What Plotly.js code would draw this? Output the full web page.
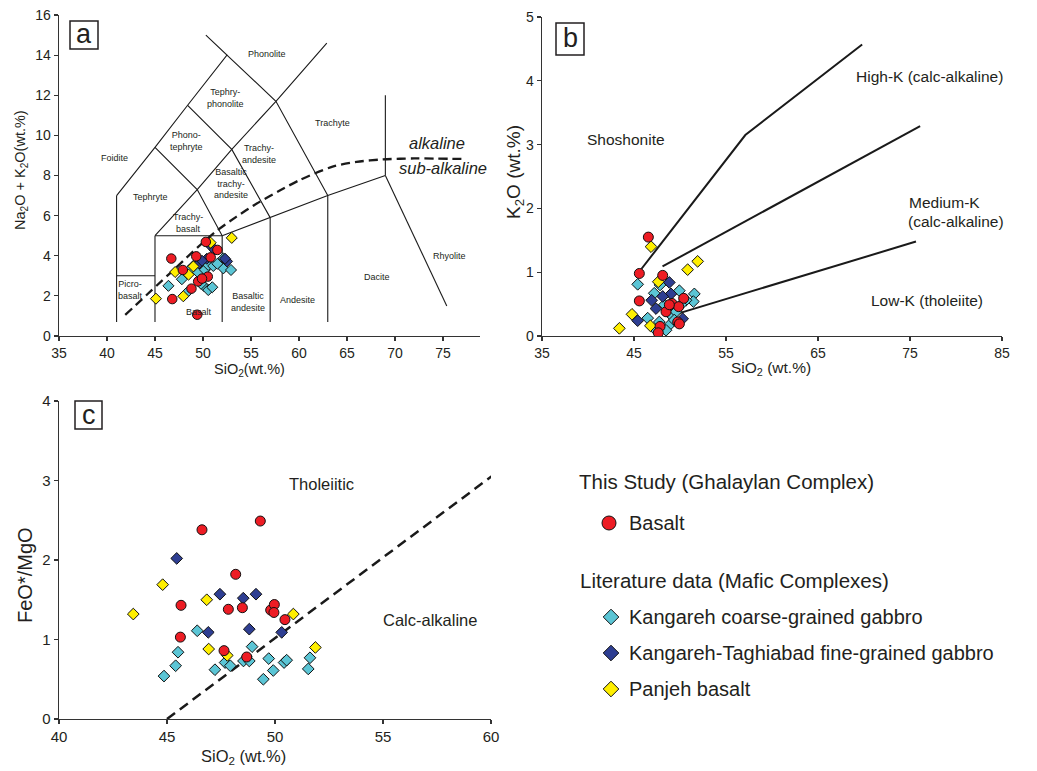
<!DOCTYPE html>
<html><head><meta charset="utf-8">
<script src="https://cdn.plot.ly/plotly-3.0.1.min.js"></script>
<style>html,body{margin:0;padding:0;background:#fff}#chart{width:1037px;height:771px}</style>
</head><body><div id="chart"></div>
<script>
// ===== Panel a: TAS diagram =====
const aBasaltX = [50.3, 51.5, 46.7, 49.3, 50.8, 47.9, 49.5, 50.5, 48.8, 46.8, 49.4, 49.9];
const aBasaltY = [4.69, 4.29, 3.86, 3.97, 3.92, 3.29, 2.72, 2.96, 2.36, 1.84, 1.06, 2.86];
const aCoarseX = [46.4, 47.8, 48.3, 49.5, 50.2, 50.55, 51.07, 52.12, 52.12, 52.92, 50.1, 50.55, 50.97, 49.0, 48.6, 51.5, 49.8];
const aCoarseY = [2.5, 2.83, 2.15, 3.16, 3.3, 3.54, 3.49, 3.87, 3.37, 3.29, 2.49, 2.29, 2.43, 3.5, 3.3, 3.6, 2.6];
const aFineX = [49.6, 50.4, 50.9, 51.2, 52.5, 49.9, 52.3];
const aFineY = [3.62, 3.85, 4.45, 4.3, 3.72, 3.75, 3.85];
const aPanjehX = [53.0, 50.8, 47.1, 48.5, 49.0, 47.95, 45.1];
const aPanjehY = [4.89, 4.65, 3.19, 3.06, 3.47, 1.98, 1.86];
// TAS field boundaries (segments separated by null)
const tasX = [41,41,null,41,45,null,45,45,null,45,52,null,52,52,null,57,57,null,63,63,null,
  52,57,63,69,null,69,69,null,69,75.4,null,41,45,48.4,52.5,50.3,null,45,49.4,53,57.6,62.9,null,
  45,49.4,52,null,48.4,53,57,null,52.5,57.6,63];
const tasY = [0.7,7,null,3,3,null,0.7,5,null,5,5,null,0.7,5,null,0.7,5.9,null,0.7,7,null,
  5,5.9,7,8,null,8,12,null,8,1.5,null,7,9.4,11.5,14,15,null,5,7.3,9.3,11.7,14.6,null,
  9.4,7.3,5,null,11.5,9.3,5.9,null,14,11.7,7];
// Irvine & Baragar alkaline / sub-alkaline divide
const alkX = [41.9, 46.5, 51.1, 53.5, 55.6, 58.0, 60.1, 63.5, 66.0, 68.7, 72.0, 77.4];
const alkY = [1.05, 3.1, 5.12, 5.95, 6.6, 7.25, 7.78, 8.44, 8.68, 8.8, 8.85, 8.82];
const tasLabels = [
  ['Phonolite',56.7,14.06], ['Tephry-<br>phonolite',52.3,11.85], ['Phono-<br>tephryte',48.3,9.7],
  ['Foidite',40.8,8.86], ['Tephryte',44.5,6.92], ['Trachy-<br>andesite',55.8,9.07],
  ['Basaltic<br>trachy-<br>andesite',52.9,7.58], ['Trachy-<br>basalt',48.4,5.62], ['Trachyte',63.5,10.6],
  ['Picro-<br>basalt',42.4,2.29], ['Basalt',49.6,1.19], ['Basaltic<br>andesite',54.7,1.68],
  ['Andesite',59.8,1.79], ['Dacite',68.1,2.95], ['Rhyolite',75.7,3.99]];

// ===== Panel b: K2O vs SiO2 =====
const bBasaltX = [46.56, 45.58, 48.12, 45.58, 50.4, 49.13, 49.86, 48.48, 49.75, 49.93, 47.83, 47.64, 48.84];
const bBasaltY = [1.55, 0.98, 0.95, 0.55, 0.59, 0.51, 0.46, 0.38, 0.22, 0.19, 0.15, 0.05, 0.49];
const bCoarseX = [45.4, 47.83, 49.93, 51.56, 51.45, 48.3, 46.49, 47.75, 48.84, 49.02, 49.57, 50.65, 49.38, 47.39, 48.48, 47.2, 50.1];
const bCoarseY = [0.81, 0.80, 0.71, 0.66, 0.54, 0.49, 0.28, 0.22, 0.17, 0.33, 0.38, 0.56, 0.25, 0.09, 0.09, 0.67, 0.49];
const bFineX = [48.84, 49.02, 46.92, 47.39, 45.4, 50.29, 48.12];
const bFineY = [0.84, 0.66, 0.56, 0.43, 0.24, 0.27, 0.62];
const bPanjehX = [46.85, 51.92, 50.83, 47.64, 44.78, 43.41, 46.78];
const bPanjehY = [1.40, 1.17, 1.04, 0.85, 0.34, 0.12, 0.16];
const kLinesX = [45.8, 57.1, 69.8, null, 48.1, 76.1, null, 48.6, 75.65];
const kLinesY = [1.05, 3.15, 4.57, null, 1.09, 3.29, null, 0.3, 1.48];

// ===== Panel c: FeO*/MgO vs SiO2 =====
const cBasaltX = [46.62, 49.32, 48.18, 45.65, 47.84, 48.49, 49.80, 49.97, 49.95, 50.46, 45.62, 47.64, 48.69];
const cBasaltY = [2.38, 2.49, 1.82, 1.43, 1.38, 1.40, 1.37, 1.44, 1.34, 1.25, 1.03, 0.86, 0.78];
const cCoarseX = [44.86, 45.40, 45.51, 46.40, 47.22, 47.69, 47.93, 48.54, 48.81, 48.94, 49.46, 49.71, 49.92, 50.42, 50.54, 51.54, 51.62];
const cCoarseY = [0.54, 0.67, 0.84, 1.11, 0.62, 0.71, 0.67, 0.73, 0.73, 0.91, 0.50, 0.76, 0.61, 0.71, 0.74, 0.63, 0.77];
const cFineX = [45.45, 47.45, 48.53, 49.12, 46.91, 48.81, 50.31];
const cFineY = [2.02, 1.57, 1.52, 1.57, 1.09, 1.13, 1.09];
const cPanjehX = [43.44, 44.80, 46.84, 46.93, 47.79, 50.85, 51.87];
const cPanjehY = [1.32, 1.69, 1.50, 0.88, 0.80, 1.32, 0.90];
const miyX = [45.0, 60.26];
const miyY = [0.0, 3.1];

// ===== Legend =====
const seriesNames = ['Basalt', 'Kangareh coarse-grained gabbro', 'Kangareh-Taghiabad fine-grained gabbro', 'Panjeh basalt'];
const groupTitles = ['This Study (Ghalaylan Complex)', 'Literature data (Mafic Complexes)'];

const RED = '#ED1C24', CYAN = '#5BC5D5', BLUE = '#2E3E92', YEL = '#FFEF00';
const INK = '#231F20';
const ARIAL = 'Liberation Sans, Arial, sans-serif';
const W = 1037, H = 771;
const PX = x => x / W, PY = y => 1 - y / H;

function pts(x, y, xa, ya, color, symbol, size) {
  return {x, y, xaxis: xa, yaxis: ya, type: 'scatter', mode: 'markers', showlegend: false, hoverinfo: 'skip',
    marker: {color, symbol, size, line: {color: '#111', width: 1}}};
}
function lines(x, y, xa, ya, w, dash, shape) {
  return {x, y, xaxis: xa, yaxis: ya, type: 'scatter', mode: 'lines', showlegend: false, hoverinfo: 'skip',
    connectgaps: false, line: {color: '#1a1a1a', width: w, dash: dash || 'solid', shape: shape || 'linear', smoothing: 0.8}};
}

const traces = [
  lines(tasX, tasY, 'x', 'y', 1.1),
  lines(alkX, alkY, 'x', 'y', 2.3, '9px,5px', 'spline'),
  pts(aCoarseX, aCoarseY, 'x', 'y', CYAN, 'diamond', 8.5),
  pts(aFineX, aFineY, 'x', 'y', BLUE, 'diamond', 8.5),
  pts(aPanjehX, aPanjehY, 'x', 'y', YEL, 'diamond', 8.5),
  pts(aBasaltX, aBasaltY, 'x', 'y', RED, 'circle', 9.5),

  lines(kLinesX, kLinesY, 'x2', 'y2', 2),
  pts(bCoarseX, bCoarseY, 'x2', 'y2', CYAN, 'diamond', 9),
  pts(bFineX, bFineY, 'x2', 'y2', BLUE, 'diamond', 9),
  pts(bPanjehX, bPanjehY, 'x2', 'y2', YEL, 'diamond', 9),
  pts(bBasaltX, bBasaltY, 'x2', 'y2', RED, 'circle', 10),

  lines(miyX, miyY, 'x3', 'y3', 2.5, '10px,6px'),
  pts(cCoarseX, cCoarseY, 'x3', 'y3', CYAN, 'diamond', 9),
  pts(cFineX, cFineY, 'x3', 'y3', BLUE, 'diamond', 9),
  pts(cPanjehX, cPanjehY, 'x3', 'y3', YEL, 'diamond', 9),
  pts(cBasaltX, cBasaltY, 'x3', 'y3', RED, 'circle', 10),

  // legend keys on a hidden pixel-coordinate axis
  pts([609], [523], 'x4', 'y4', RED, 'circle', 14),
  pts([611], [617], 'x4', 'y4', CYAN, 'diamond', 12),
  pts([611], [653], 'x4', 'y4', BLUE, 'diamond', 12),
  pts([611], [689], 'x4', 'y4', YEL, 'diamond', 12)
];

const axBase = {showgrid: false, zeroline: false, showline: true, linecolor: '#333', linewidth: 1.4,
  ticks: 'outside', ticklen: 4, tickwidth: 1.2, tickcolor: '#333', fixedrange: true, color: INK};

const layout = {
  width: W, height: H, margin: {l: 0, r: 0, t: 0, b: 0},
  paper_bgcolor: '#fff', plot_bgcolor: 'rgba(0,0,0,0)', showlegend: false,
  font: {family: ARIAL, color: INK},
  xaxis: Object.assign({}, axBase, {domain: [PX(59), PX(480)], range: [35, 78.86], anchor: 'y',
    tickvals: [35, 40, 45, 50, 55, 60, 65, 70, 75], tickfont: {family: ARIAL, size: 14, color: INK}}),
  yaxis: Object.assign({}, axBase, {domain: [PY(336), PY(15)], range: [0, 16], anchor: 'x',
    dtick: 2, tickfont: {family: ARIAL, size: 14, color: INK}}),
  xaxis2: Object.assign({}, axBase, {domain: [PX(542), PX(1002)], range: [35, 85], anchor: 'y2',
    dtick: 10, tick0: 35, tickfont: {family: ARIAL, size: 14, color: INK}}),
  yaxis2: Object.assign({}, axBase, {domain: [PY(336), PY(17)], range: [0, 5], anchor: 'x2',
    dtick: 1, tickfont: {family: ARIAL, size: 14, color: INK}}),
  xaxis3: Object.assign({}, axBase, {domain: [PX(59), PX(491)], range: [40, 60], anchor: 'y3',
    dtick: 5, tickfont: {family: ARIAL, size: 15, color: INK}}),
  yaxis3: Object.assign({}, axBase, {domain: [PY(719), PY(401)], range: [0, 4], anchor: 'x3',
    dtick: 1, tickfont: {family: ARIAL, size: 15, color: INK}}),
  xaxis4: {domain: [0, 1], range: [0, W], anchor: 'y4', visible: false, fixedrange: true},
  yaxis4: {domain: [0, 1], range: [H, 0], anchor: 'x4', visible: false, fixedrange: true},
  shapes: [
    {type: 'rect', xref: 'paper', yref: 'paper', x0: PX(70), x1: PX(98), y0: PY(21), y1: PY(49), line: {color: INK, width: 1.5}},
    {type: 'rect', xref: 'paper', yref: 'paper', x0: PX(556), x1: PX(584), y0: PY(23), y1: PY(55), line: {color: INK, width: 1.5}},
    {type: 'rect', xref: 'paper', yref: 'paper', x0: PX(75), x1: PX(102), y0: PY(401), y1: PY(429), line: {color: INK, width: 1.5}}
  ],
  annotations: []
};

const A = layout.annotations;
function note(text, x, y, xref, yref, font, extra) {
  A.push(Object.assign({text, x, y, xref, yref, showarrow: false, font, xanchor: 'center', yanchor: 'middle'}, extra || {}));
}
const F = (size) => ({family: ARIAL, size, color: INK});
// panel letters
note('a', PX(84), PY(34), 'paper', 'paper', F(27));
note('b', PX(570), PY(38), 'paper', 'paper', F(27));
note('c', PX(88.5), PY(415), 'paper', 'paper', F(27));
// TAS field names
tasLabels.forEach(l => note(l[0], l[1], l[2], 'x', 'y', F(9)));
note('<i>alkaline</i>', 74.4, 9.62, 'x', 'y', F(16.5));
note('<i>sub-alkaline</i>', 75.0, 8.37, 'x', 'y', F(16.5));
// Panel b fields
note('Shoshonite', 39.67, 3.08, 'x2', 'y2', F(15.5), {xanchor: 'left'});
note('High-K (calc-alkaline)', 68.95, 4.07, 'x2', 'y2', F(15.5), {xanchor: 'left'});
note('Medium-K', 74.67, 2.09, 'x2', 'y2', F(15.5), {xanchor: 'left'});
note('(calc-alkaline)', 74.6, 1.79, 'x2', 'y2', F(15.5), {xanchor: 'left'});
note('Low-K (tholeiite)', 70.58, 0.55, 'x2', 'y2', F(15.5), {xanchor: 'left'});
// Panel c fields
note('Tholeiitic', 52.16, 2.96, 'x3', 'y3', F(16.5));
note('Calc-alkaline', 57.18, 1.245, 'x3', 'y3', F(16.5));
// axis titles
note('SiO<sub>2</sub>(wt.%)', PX(249), PY(370), 'paper', 'paper', F(14.5));
note('Na<sub>2</sub>O + K<sub>2</sub>O(wt.%)', PX(21), PY(170), 'paper', 'paper', F(14.5), {textangle: -90});
note('SiO<sub>2</sub> (wt.%)', PX(771), PY(368), 'paper', 'paper', F(15.5));
note('K<sub>2</sub>O (wt.%)', PX(515), PY(172), 'paper', 'paper', F(19), {textangle: -90});
note('SiO<sub>2</sub> (wt.%)', PX(243), PY(757), 'paper', 'paper', F(16.5));
note('FeO*/MgO', PX(25), PY(575), 'paper', 'paper', F(20), {textangle: -90});
// legend text
note(groupTitles[0], PX(577), PY(481), 'paper', 'paper', F(20.5), {xanchor: 'left'});
note(seriesNames[0], PX(627), PY(523), 'paper', 'paper', F(20), {xanchor: 'left'});
note(groupTitles[1], PX(578), PY(580), 'paper', 'paper', F(20.5), {xanchor: 'left'});
note(seriesNames[1], PX(627), PY(617), 'paper', 'paper', F(20), {xanchor: 'left'});
note(seriesNames[2], PX(627), PY(653), 'paper', 'paper', F(20), {xanchor: 'left'});
note(seriesNames[3], PX(627), PY(689), 'paper', 'paper', F(20), {xanchor: 'left'});

Plotly.newPlot('chart', traces, layout, {staticPlot: true, displayModeBar: false});
</script></body></html>
